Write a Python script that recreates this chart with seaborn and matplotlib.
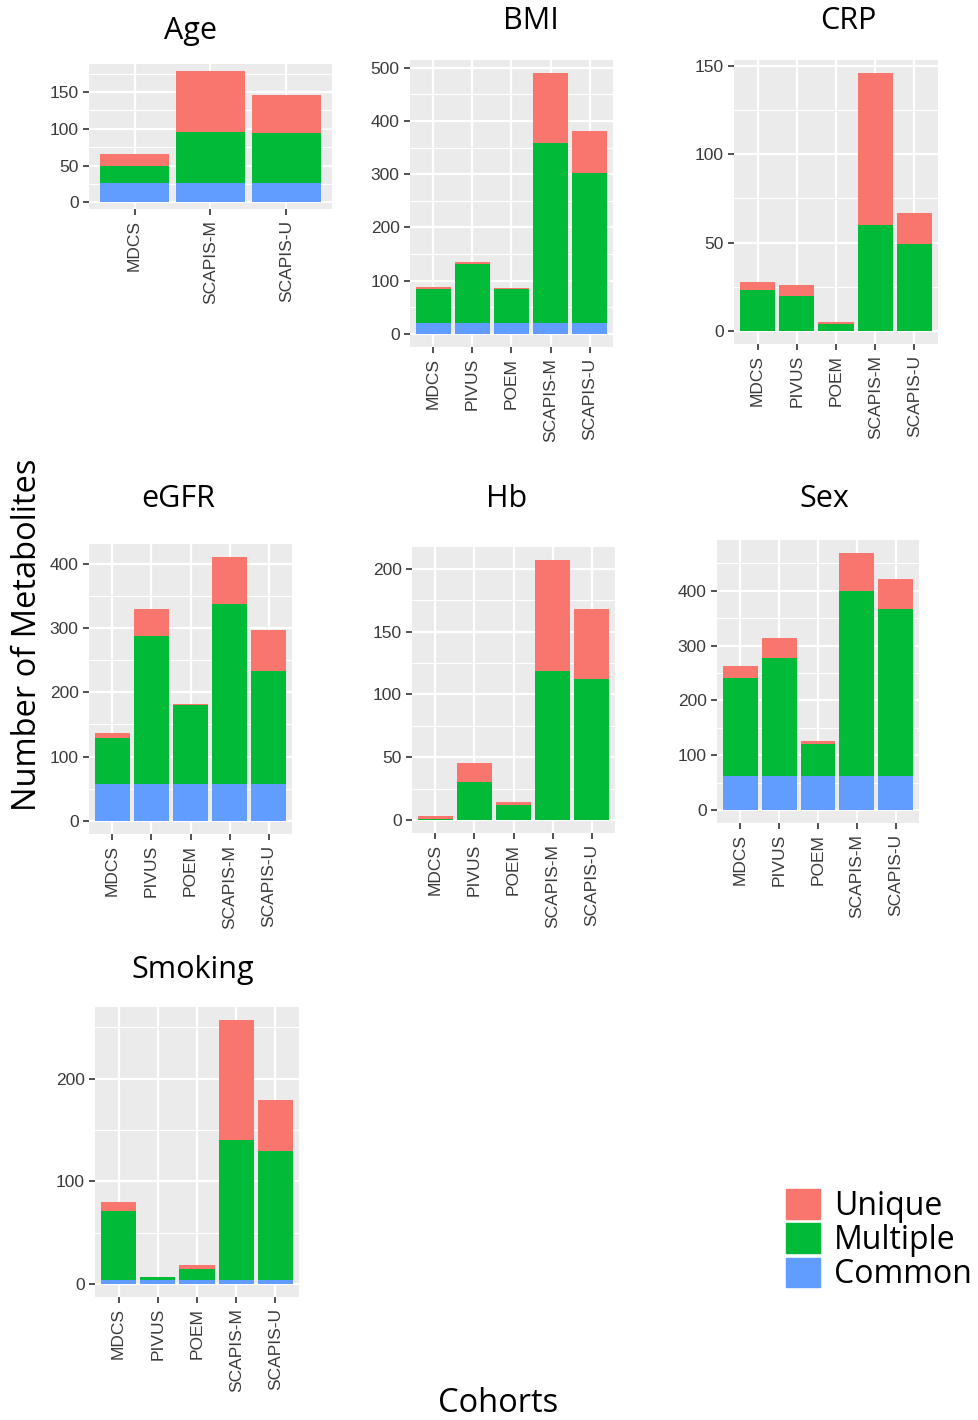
import numpy as np
import pandas as pd
import seaborn as sns
import matplotlib.pyplot as plt
from matplotlib.patches import Patch
from matplotlib.ticker import MultipleLocator

# values: Common / Multiple / Unique per cohort
age_cohorts = ['MDCS', 'SCAPIS-M', 'SCAPIS-U']
age_common = [27, 27, 27]
age_multiple = [23, 68, 67]
age_unique = [16, 84, 52]

cohorts = ['MDCS', 'PIVUS', 'POEM', 'SCAPIS-M', 'SCAPIS-U']

bmi_common = [20, 20, 20, 20, 20]
bmi_multiple = [64, 112, 64, 338, 283]
bmi_unique = [5, 3, 3, 132, 79]

crp_common = [0, 0, 0, 0, 0]
crp_multiple = [23, 20, 4, 60, 49]
crp_unique = [5, 6, 1, 86, 18]

egfr_common = [58, 58, 58, 58, 58]
egfr_multiple = [71, 230, 122, 279, 175]
egfr_unique = [8, 42, 2, 73, 64]

hb_common = [0, 0, 0, 0, 0]
hb_multiple = [1, 30, 12, 119, 112]
hb_unique = [2, 15, 2, 88, 56]

sex_common = [63, 63, 63, 63, 63]
sex_multiple = [177, 214, 57, 336, 303]
sex_unique = [23, 37, 6, 70, 56]

smk_common = [4, 4, 4, 4, 4]
smk_multiple = [67, 3, 10, 136, 125]
smk_unique = [9, 0, 4, 117, 50]

col_unique = '#F8766D'
col_multiple = '#00BA38'
col_common = '#619CFF'

W, H = 979, 1420
fig = plt.figure(figsize=(W / 100, H / 100), dpi=100)


def panel(title, x0, x1, y0, y1, tx, ty, cats, common, multiple, unique, step):
    ax = fig.add_axes([x0 / W, 1 - y1 / H, (x1 - x0) / W, (y1 - y0) / H])
    df = pd.DataFrame({'cohort': cats, 'common': common,
                       'multiple': multiple, 'unique': unique})
    df['cm'] = df['common'] + df['multiple']
    df['total'] = df['cm'] + df['unique']
    # stacked bars: draw totals first, then overlay lower segments
    sns.barplot(data=df, x='cohort', y='total', color=col_unique, width=0.9,
                saturation=1, ax=ax)
    sns.barplot(data=df, x='cohort', y='cm', color=col_multiple, width=0.9,
                saturation=1, ax=ax)
    sns.barplot(data=df, x='cohort', y='common', color=col_common, width=0.9,
                saturation=1, ax=ax)
    for p in ax.patches:
        p.set_edgecolor('none')
        p.set_zorder(3)
    top = df['total'].max()
    ax.set_ylim(-0.05 * top, 1.05 * top)
    ax.set_xlim(-0.6, len(cats) - 0.4)
    ax.set_facecolor('#EBEBEB')
    for s in ax.spines.values():
        s.set_visible(False)
    ax.yaxis.set_major_locator(MultipleLocator(step))
    ax.yaxis.set_minor_locator(MultipleLocator(step / 2))
    ax.grid(which='major', color='white', linewidth=1.6, zorder=0)
    ax.grid(which='minor', axis='y', color='white', linewidth=0.8, zorder=0)
    ax.set_axisbelow(True)
    ax.tick_params(axis='both', which='major', length=4, width=1.2,
                   color='#333333', labelcolor='#3A3A3A', labelsize=12.5)
    ax.tick_params(axis='y', which='minor', length=0)
    ax.tick_params(axis='x', labelrotation=90, pad=4)
    for lab in ax.get_xticklabels() + ax.get_yticklabels():
        lab.set_family('Liberation Sans')
    ax.set_xlabel('')
    ax.set_ylabel('')
    fig.text(tx / W, 1 - ty / H, title, ha='center', va='center',
             fontsize=22, family='Open Sans')
    return ax


panel('Age', 89, 332, 64, 209, 190, 31, age_cohorts, age_common, age_multiple, age_unique, 50)
panel('BMI', 410, 613, 60, 347, 531, 21, cohorts, bmi_common, bmi_multiple, bmi_unique, 100)
panel('CRP', 734, 938, 60, 344, 848, 21, cohorts, crp_common, crp_multiple, crp_unique, 50)
panel('eGFR', 89, 292, 544, 834, 178, 499, cohorts, egfr_common, egfr_multiple, egfr_unique, 100)
panel('Hb', 412, 615, 547, 833, 507, 499, cohorts, hb_common, hb_multiple, hb_unique, 50)
panel('Sex', 717, 919, 540, 823, 824, 499, cohorts, sex_common, sex_multiple, sex_unique, 100)
panel('Smoking', 95, 299, 1007, 1297, 193, 970, cohorts, smk_common, smk_multiple, smk_unique, 100)

fig.text(28 / W, 1 - 635 / H, 'Number of Metabolites', rotation=90,
         ha='center', va='center', fontsize=23.5, family='Open Sans')
fig.text(498 / W, 1 - 1403 / H, 'Cohorts', ha='center', va='center',
         fontsize=23.5, family='Open Sans')

handles = [Patch(color=col_unique), Patch(color=col_multiple), Patch(color=col_common)]
fig.legend(handles, ['Unique', 'Multiple', 'Common'], loc='upper left',
           bbox_to_anchor=(786 / W, 1 - 1189 / H), frameon=False,
           prop={'family': 'Open Sans', 'size': 23},
           handlelength=1.05, handleheight=1.05, handletextpad=0.45,
           labelspacing=0.02, borderpad=0, borderaxespad=0)

fig.savefig('out.png', dpi=100, facecolor='white')
